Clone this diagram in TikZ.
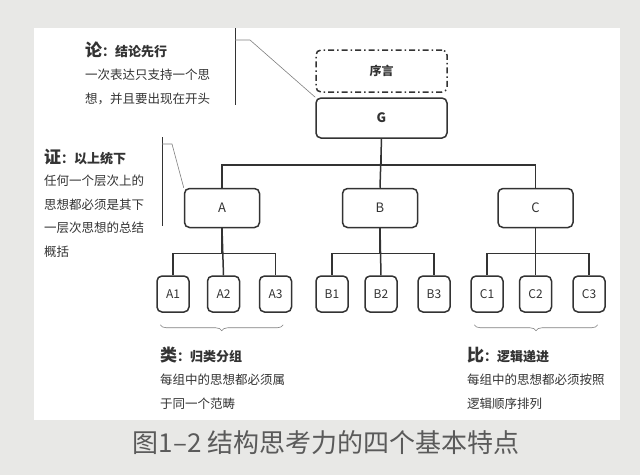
\documentclass[tikz,border=0pt]{standalone}
\usepackage{fontspec}
\setmainfont{Noto Sans CJK SC}
\usetikzlibrary{decorations.pathreplacing}
\definecolor{pagegray}{HTML}{E8E8E6}
\definecolor{ink}{HTML}{333333}
\definecolor{capgray}{HTML}{5A5A5A}

\begin{document}
\begin{tikzpicture}[x=1pt,y=-1pt,
  box/.style={draw=ink,line width=1.5pt,rounded corners=5pt,fill=white,text=ink,inner sep=0pt},
  leaf/.style={box,minimum width=32,minimum height=36,font=\fontsize{12}{12}\selectfont},
  mid/.style={box,minimum width=75,minimum height=39,font=\fontsize{13}{13}\selectfont},
  link/.style={ink,line width=1.5pt},
  body/.style={anchor=north west,align=left,inner sep=0pt,text=ink,font=\fontsize{12.5}{23.5}\selectfont},
  head/.style={anchor=west,inner sep=0pt,text=ink},
  brc/.style={draw=gray,line width=0.6pt,decorate,decoration={brace,mirror,amplitude=6pt}}]
\fill[pagegray](0,0)rectangle(640,475);
\fill[white](34,28)rectangle(620,420);
% top
\node[box,minimum width=131,minimum height=42,dash pattern=on 6pt off 3pt on 1.5pt off 3pt,
  font=\bfseries\fontsize{12}{12}\selectfont] (pre) at (381.5,71) {序言};
\node[box,minimum width=131,minimum height=40,font=\bfseries\fontsize{13}{13}\selectfont] (G) at (381.5,118) {G};
% second level
\node[mid] (A) at (222,208) {A};
\node[mid] (B) at (380,208) {B};
\node[mid] (C) at (535.5,208) {C};
\draw[link](G.south)--++(0,26)-|(A.north);
\draw[link](G.south)--(B.north);
\draw[link](G.south)--++(0,26)-|(C.north);
% leaves
\foreach \p/\xa/\xb/\xc in {A/173/223.5/275.5,B/332/381/434,C/487/535.5/589}{
  \node[leaf] (\p1) at (\xa,294) {\p1};
  \node[leaf] (\p2) at (\xb,294) {\p2};
  \node[leaf] (\p3) at (\xc,294) {\p3};
  \draw[link](\p.south)--++(0,25)-|(\p1.north);
  \draw[link](\p.south)--(\p2.north);
  \draw[link](\p.south)--++(0,25)-|(\p3.north);
}
\draw[brc]([xshift=4pt,yshift=-12pt]A1.south west)--([xshift=-9pt,yshift=-12pt]A3.south east);
\draw[brc]([xshift=4pt,yshift=-12pt]C1.south west)--([xshift=-8pt,yshift=-12pt]C3.south east);
% call-outs
\coordinate (lunTop) at (235,40);
\coordinate (zhengTop) at (162,144);
\draw[ink,line width=0.8pt](235,28)--(235,105);
\draw[gray,line width=0.6pt](lunTop)--++(15,0)--(G.north west);
\draw[ink,line width=0.8pt](162,137)--(162,226);
\draw[gray,line width=0.6pt](zhengTop)--++(10,0)--(A.north west);
% texts
\node[head] (lun) at (85,50) {\bfseries\fontsize{17}{17}\selectfont 论\fontsize{13}{13}\selectfont ：结论先行};
\node[body] (lunText) at (85,69) {一次表达只支持一个思\\想，并且要出现在开头};
\node[head] (zheng) at (44,157) {\bfseries\fontsize{17}{17}\selectfont 证\fontsize{13}{13}\selectfont ：以上统下};
\node[body] (zhengText) at (44,175) {任何一个层次上的\\思想都必须是其下\\一层次思想的总结\\概括};
\node[head] (lei) at (160,355) {\bfseries\fontsize{17}{17}\selectfont 类\fontsize{13}{13}\selectfont ：归类分组};
\node[body] (leiText) at (160,374) {每组中的思想都必须属\\于同一个范畴};
\node[head] (bi) at (467,355) {\bfseries\fontsize{17}{17}\selectfont 比\fontsize{13}{13}\selectfont ：逻辑递进};
\node[body] (biText) at (467,374) {每组中的思想都必须按照\\逻辑顺序排列};
\node[text=capgray,font=\fontsize{26}{26}\selectfont] (cap) at (326,443) {图1–2 结构思考力的四个基本特点};
\end{tikzpicture}
\end{document}
